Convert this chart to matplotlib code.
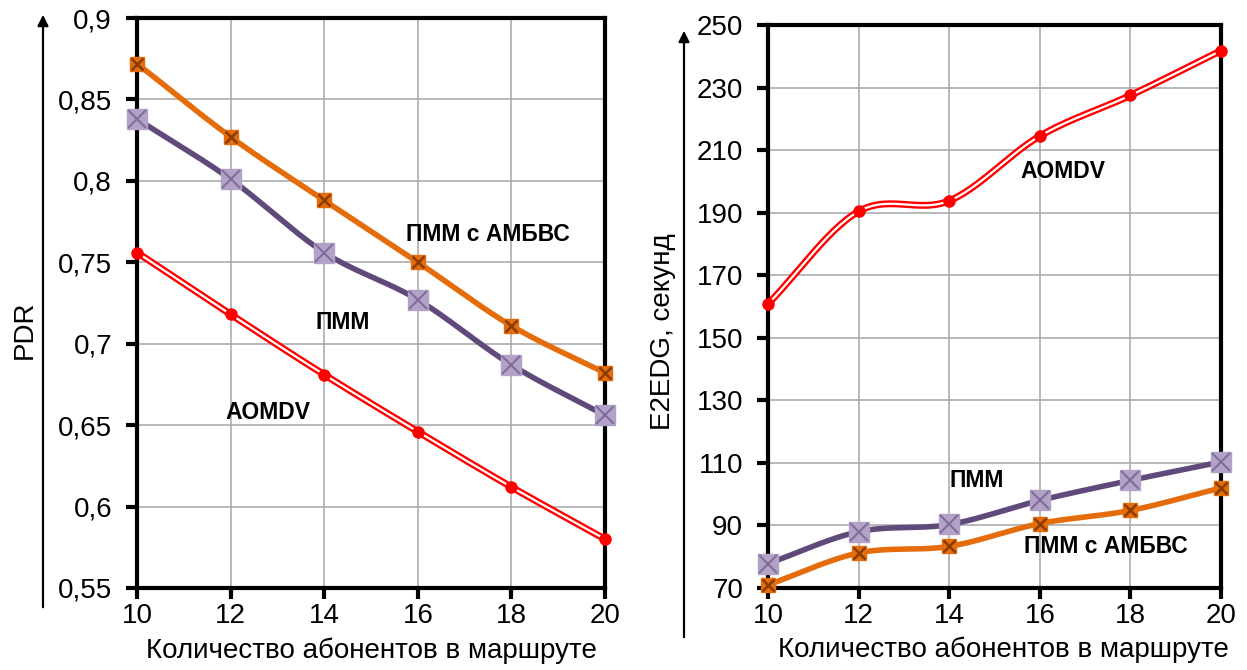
import numpy as np
import matplotlib
matplotlib.use("Agg")
import matplotlib.pyplot as plt
from matplotlib.ticker import FuncFormatter

plt.rcParams["font.family"] = ["Liberation Sans", "DejaVu Sans"]

# --- data -------------------------------------------------------------
subscribers = [10, 12, 14, 16, 18, 20]

pdr_amvbs = [0.872, 0.827, 0.788, 0.750, 0.711, 0.682]
pdr_pmm = [0.838, 0.801, 0.756, 0.727, 0.687, 0.656]
pdr_aomdv = [0.756, 0.718, 0.681, 0.646, 0.612, 0.580]

delay_aomdv = [160.8, 190.4, 193.8, 214.5, 227.5, 241.8]
delay_pmm = [77.8, 88.0, 90.3, 98.0, 104.4, 110.3]
delay_amvbs = [71.0, 81.2, 83.3, 90.6, 94.8, 102.0]

pdr_ticks = [0.55, 0.6, 0.65, 0.7, 0.75, 0.8, 0.85, 0.9]
delay_ticks = [70, 90, 110, 130, 150, 170, 190, 210, 230, 250]

ORANGE = "#e46c0a"
PURPLE = "#604a7b"
LILAC = "#b3a2c7"
RED = "#ff0000"


def smooth(x, y, n=30):
    # Catmull-Rom path through the points (like Excel "smoothed line")
    x = np.asarray(x, float)
    y = np.asarray(y, float)
    px = np.concatenate([[2 * x[0] - x[1]], x, [2 * x[-1] - x[-2]]])
    py = np.concatenate([[2 * y[0] - y[1]], y, [2 * y[-1] - y[-2]]])
    xs, ys = [], []
    t = np.linspace(0, 1, n)
    for i in range(1, len(px) - 2):
        for p, out in ((px, xs), (py, ys)):
            p0, p1, p2, p3 = p[i - 1], p[i], p[i + 1], p[i + 2]
            out.extend(
                0.5 * ((2 * p1) + (-p0 + p2) * t
                       + (2 * p0 - 5 * p1 + 4 * p2 - p3) * t ** 2
                       + (-p0 + 3 * p1 - 3 * p2 + p3) * t ** 3)
            )
    return np.array(xs), np.array(ys)


def draw_aomdv(ax, x, y):
    sx, sy = smooth(x, y)
    ax.plot(sx, sy, color=RED, lw=5, solid_capstyle="round", clip_on=False, zorder=3)
    ax.plot(sx, sy, color="white", lw=1.6, clip_on=False, zorder=4)
    ax.plot(x, y, "o", color=RED, ms=8, mec=RED, clip_on=False, zorder=5)


def draw_pmm(ax, x, y):
    sx, sy = smooth(x, y)
    ax.plot(sx, sy, color=PURPLE, lw=4, clip_on=False, zorder=3)
    ax.plot(x, y, "s", color=LILAC, ms=15, mec=LILAC, clip_on=False, zorder=5)
    ax.plot(x, y, "x", color=PURPLE, ms=13, mew=1.5, alpha=0.6, clip_on=False, zorder=6)


def draw_amvbs(ax, x, y):
    sx, sy = smooth(x, y)
    ax.plot(sx, sy, color=ORANGE, lw=4, clip_on=False, zorder=3)
    ax.plot(x, y, "s", color=ORANGE, ms=10, mec=ORANGE, clip_on=False, zorder=5)
    ax.plot(x, y, "x", color="#8a3c00", ms=9, mew=1.8, clip_on=False, zorder=6)


def style_axes(ax, yticks, fmt):
    ax.set_xlim(10, 20)
    ax.set_ylim(yticks[0], yticks[-1])
    ax.set_xticks(subscribers)
    ax.set_yticks(yticks)
    ax.yaxis.set_major_formatter(FuncFormatter(fmt))
    ax.grid(True, color="#a6a6a6", lw=1.1)
    ax.set_axisbelow(True)
    for s in ax.spines.values():
        s.set_linewidth(3)
        s.set_color("black")
    ax.tick_params(direction="out", length=8, width=3, labelsize=20)
    ax.tick_params(axis="y", pad=10)
    ax.tick_params(axis="x", pad=3)
    ax.set_xlabel("Количество абонентов в маршруте", fontsize=20, va="top")


fig = plt.figure(figsize=(12.47, 6.70), dpi=100)
ax1 = fig.add_axes([0.1099, 0.1224, 0.3753, 0.8507])
ax2 = fig.add_axes([0.6159, 0.1224, 0.3633, 0.8403])

draw_aomdv(ax1, subscribers, pdr_aomdv)
draw_pmm(ax1, subscribers, pdr_pmm)
draw_amvbs(ax1, subscribers, pdr_amvbs)
style_axes(ax1, pdr_ticks, lambda v, p: f"{v:g}".replace(".", ","))
ax1.set_ylabel("PDR", fontsize=20, va="center")
ax1.yaxis.set_label_coords(-0.239, 0.453)
ax1.xaxis.set_label_coords(0.5, -0.087)

draw_aomdv(ax2, subscribers, delay_aomdv)
draw_pmm(ax2, subscribers, delay_pmm)
draw_amvbs(ax2, subscribers, delay_amvbs)
style_axes(ax2, delay_ticks, lambda v, p: f"{v:g}")
ax2.set_ylabel("E2EDG, секунд", fontsize=20, va="center")
ax2.yaxis.set_label_coords(-0.231, 0.456)
ax2.xaxis.set_label_coords(0.52, -0.087)

lab = dict(fontsize=16.5, fontweight="bold", ha="center", va="center")
ax1.text(17.5, 0.767, "ПММ с АМБВС", **lab)
ax1.text(14.4, 0.713, "ПММ", **lab)
ax1.text(12.8, 0.658, "AOMDV", **lab)
ax2.text(16.5, 203, "AOMDV", **lab)
ax2.text(14.6, 104.5, "ПММ", **lab)
ax2.text(17.45, 83.2, "ПММ с АМБВС", **lab)

# vertical arrows beside the y axes
for xp, y0, y1 in [(43, 610, 12), (684, 640, 28)]:
    fig.add_artist(matplotlib.patches.FancyArrowPatch(
        (xp / 1247, 1 - y0 / 670), (xp / 1247, 1 - y1 / 670),
        transform=fig.transFigure, arrowstyle="-|>", mutation_scale=16,
        lw=1.6, color="black"))

fig.savefig("out.png", dpi=100)
